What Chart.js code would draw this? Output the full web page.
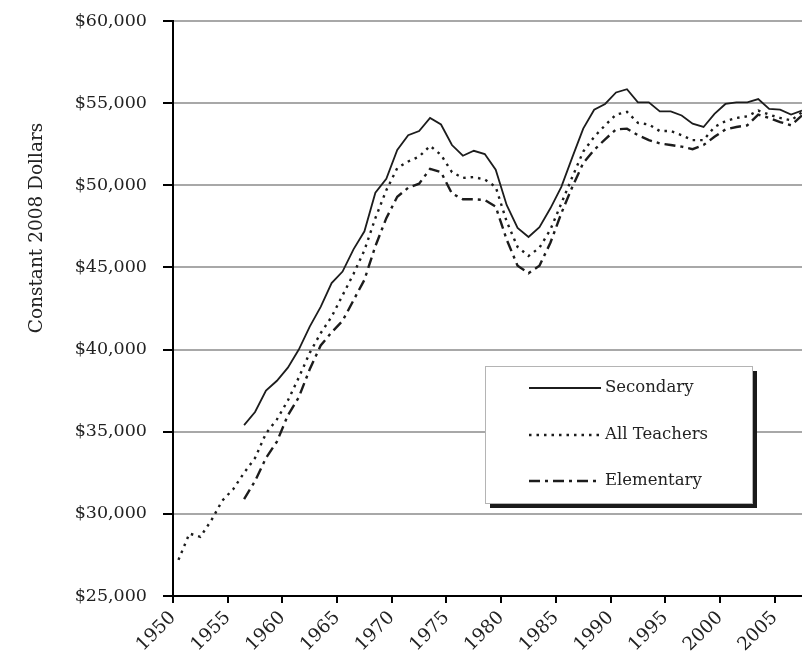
<!DOCTYPE html>
<html>
<head>
<meta charset="utf-8">
<script src="https://cdn.jsdelivr.net/npm/chart.js@4/dist/chart.umd.min.js"></script>
<style>
  html, body { margin: 0; padding: 0; background: #fff; }
  #salaryChart { display: block; }
</style>
</head>
<body>
<canvas id="salaryChart" width="802" height="658"></canvas>
<script>
// school years (start year); points sit mid school year
const allYears = [1950, 1951, 1952, 1953, 1954, 1955, 1956, 1957, 1958, 1959,
  1960, 1961, 1962, 1963, 1964, 1965, 1966, 1967, 1968, 1969,
  1970, 1971, 1972, 1973, 1974, 1975, 1976, 1977, 1978, 1979,
  1980, 1981, 1982, 1983, 1984, 1985, 1986, 1987, 1988, 1989,
  1990, 1991, 1992, 1993, 1994, 1995, 1996, 1997, 1998, 1999,
  2000, 2001, 2002, 2003, 2004, 2005, 2006, 2007];
const levelYears = allYears.slice(6); // secondary / elementary start in 1956

const secondary = [35400, 36200, 37500, 38100,
  38900, 40000, 41400, 42600, 44050, 44750, 46100, 47200, 49550, 50400,
  52150, 53050, 53300, 54100, 53700, 52450, 51800, 52100, 51900, 50950,
  48800, 47400, 46850, 47450, 48600, 49900, 51700, 53450, 54600, 54950,
  55650, 55850, 55050, 55050, 54500, 54500, 54250, 53750, 53550, 54350,
  54950, 55050, 55050, 55250, 54650, 54600, 54300, 54550];

const allTeachers = [27200, 28800, 28600, 29600, 30800, 31500, 32500, 33400, 34900, 35750,
  36900, 38300, 39800, 41000, 42000, 43300, 44600, 46050, 48000, 49700,
  51050, 51450, 51750, 52400, 51850, 50800, 50450, 50500, 50350, 49900,
  47800, 46250, 45700, 46200, 47300, 48900, 50500, 52050, 52950, 53650,
  54300, 54470, 53800, 53700, 53300, 53300, 53050, 52750, 52750, 53550,
  53900, 54100, 54200, 54550, 54300, 54100, 53950, 54450];

const elementary = [30900, 32000, 33400, 34400,
  36000, 37100, 38800, 40250, 41050, 41750, 43000, 44250, 46300, 48000,
  49300, 49850, 50100, 51000, 50800, 49500, 49150, 49150, 49100, 48700,
  46700, 45100, 44650, 45100, 46500, 48300, 49900, 51350, 52150, 52800,
  53400, 53450, 53050, 52750, 52550, 52450, 52350, 52200, 52450, 52950,
  53400, 53550, 53650, 54300, 54100, 53850, 53650, 54250];

const xTickYears = [1950, 1955, 1960, 1965, 1970, 1975, 1980, 1985, 1990, 1995, 2000, 2005];
const yTicks = [25000, 30000, 35000, 40000, 45000, 50000, 55000, 60000];
const yTitle = 'Constant 2008 Dollars';

const serif = "'DejaVu Serif', 'Liberation Serif', serif";
const ink = '#1c1c1c';

function points(years, values) {
  return values.map((v, i) => ({ x: years[i] + 0.5, y: v }));
}

// y title sits above the plot's middle, so draw it by hand
const sideTitle = {
  id: 'sideTitle',
  afterDraw(chart) {
    const ctx = chart.ctx;
    ctx.save();
    ctx.translate(37, 228);
    ctx.rotate(-Math.PI / 2);
    ctx.fillStyle = '#222';
    ctx.font = '18.5px ' + serif;
    ctx.textAlign = 'center';
    ctx.textBaseline = 'middle';
    ctx.fillText(yTitle, 0, 0);
    ctx.restore();
  }
};

// boxed legend with a drop shadow, inside the plot
const boxLegend = {
  id: 'boxLegend',
  afterDraw(chart) {
    const ctx = chart.ctx;
    const bx = 485, by = 366, bw = 267, bh = 137;
    ctx.save();
    ctx.fillStyle = '#1a1a1a';
    ctx.fillRect(bx + 5, by + 5, bw, bh);
    ctx.fillStyle = '#fff';
    ctx.fillRect(bx, by, bw, bh);
    ctx.strokeStyle = '#b4b4b4';
    ctx.lineWidth = 1;
    ctx.strokeRect(bx + 0.5, by + 0.5, bw, bh);

    const rows = [388, 435, 481];
    chart.data.datasets.forEach((ds, i) => {
      const y = rows[i];
      ctx.beginPath();
      ctx.setLineDash(ds.borderDash || []);
      ctx.strokeStyle = ds.borderColor;
      ctx.lineWidth = ds.borderWidth;
      ctx.moveTo(529, y);
      ctx.lineTo(601, y);
      ctx.stroke();
      ctx.setLineDash([]);
      ctx.fillStyle = '#222';
      ctx.font = '16.5px ' + serif;
      ctx.textBaseline = 'middle';
      ctx.textAlign = 'left';
      ctx.fillText(ds.label, 605, y);
    });
    ctx.restore();
  }
};

new Chart(document.getElementById('salaryChart'), {
  type: 'line',
  data: {
    datasets: [
      {
        label: 'Secondary',
        data: points(levelYears, secondary),
        borderColor: ink,
        borderWidth: 1.8,
        pointRadius: 0,
        tension: 0
      },
      {
        label: 'All Teachers',
        data: points(allYears, allTeachers),
        borderColor: ink,
        borderWidth: 2.4,
        borderDash: [2.5, 5],
        pointRadius: 0,
        tension: 0
      },
      {
        label: 'Elementary',
        data: points(levelYears, elementary),
        borderColor: ink,
        borderWidth: 2.4,
        borderDash: [11, 5, 3, 5],
        pointRadius: 0,
        tension: 0
      }
    ]
  },
  options: {
    responsive: false,
    animation: false,
    devicePixelRatio: 1,
    layout: { padding: { top: 21, right: 0, bottom: 0, left: 0 } },
    plugins: {
      legend: { display: false },
      tooltip: { enabled: false }
    },
    scales: {
      x: {
        type: 'linear',
        min: 1950,
        max: 2007.5,
        afterBuildTicks: (scale) => { scale.ticks = xTickYears.map((v) => ({ value: v })); },
        afterFit: (scale) => { scale.height = 62; scale.paddingLeft = 0; scale.paddingRight = 0; },
        ticks: {
          autoSkip: false,
          minRotation: 45,
          maxRotation: 45,
          padding: 4,
          color: '#222',
          font: { family: serif, size: 18.5 },
          callback: (v) => String(v)
        },
        grid: { drawOnChartArea: false, tickLength: 7, tickColor: '#000', lineWidth: 2 },
        border: { color: '#000', width: 2 }
      },
      y: {
        min: 25000,
        max: 60000,
        afterBuildTicks: (scale) => { scale.ticks = yTicks.map((v) => ({ value: v })); },
        afterFit: (scale) => { scale.width = 173; scale.paddingTop = 0; scale.paddingBottom = 0; },
        ticks: {
          padding: 16,
          color: '#222',
          font: { family: serif, size: 17.5 },
          callback: (v) => '$' + v.toLocaleString('en-US')
        },
        grid: { color: '#a8a8a8', lineWidth: 2, tickColor: '#000', tickLength: 10 },
        border: { color: '#000', width: 2 }
      }
    }
  },
  plugins: [sideTitle, boxLegend]
});
</script>
</body>
</html>
